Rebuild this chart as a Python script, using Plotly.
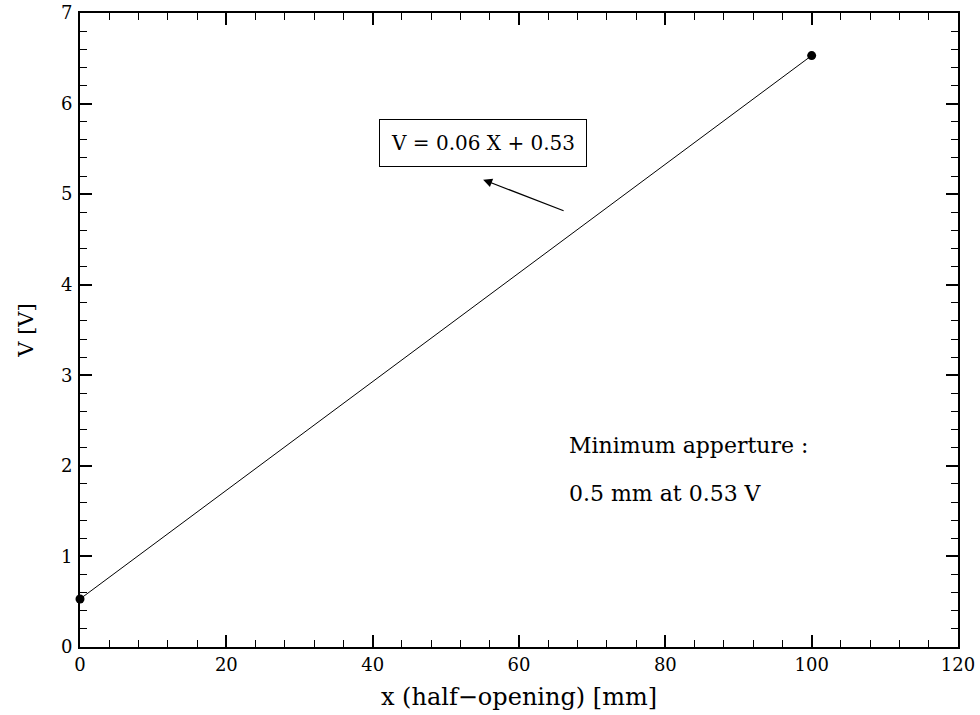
import plotly.graph_objects as go

x_pts = [0, 100]
v_pts = [0.53, 6.53]
x_ticks = [0, 20, 40, 60, 80, 100, 120]
y_ticks = [0, 1, 2, 3, 4, 5, 6, 7]
eq_text = "V = 0.06 X + 0.53"
note1 = "Minimum apperture :"
note2 = "0.5 mm at 0.53 V"

FONT = "DejaVu Serif"

fig = go.Figure()
fig.add_trace(go.Scatter(x=x_pts, y=v_pts, mode="lines+markers",
                         line=dict(color="black", width=1),
                         marker=dict(color="black", size=9),
                         cliponaxis=False, showlegend=False))

axis_common = dict(showline=True, linecolor="black", linewidth=2, mirror="ticks",
                   ticks="inside", ticklen=12, tickwidth=1.5, tickcolor="black",
                   showgrid=False, zeroline=False, automargin=False,
                   tickfont=dict(family=FONT, size=18, color="black"))

fig.update_xaxes(range=[0, 120], tickvals=x_ticks, ticktext=[str(t) for t in x_ticks],
                 minor=dict(dtick=4, ticklen=7, tickwidth=1.2, tickcolor="black", ticks="inside"),
                 title=dict(text="x (half\u2212opening) [mm]", font=dict(family=FONT, size=24, color="black")),
                 **axis_common)
fig.update_yaxes(range=[0, 7], tickvals=y_ticks, ticktext=[str(t) for t in y_ticks],
                 minor=dict(dtick=0.2, ticklen=7, tickwidth=1.2, tickcolor="black", ticks="inside"),
                 title=dict(text="V [V]", font=dict(family=FONT, size=21, color="black"), standoff=22),
                 ticklabelstandoff=2,
                 **axis_common)

fig.add_annotation(x=55.1, y=5.56, xref="x", yref="y", text=eq_text, showarrow=False,
                   font=dict(family=FONT, size=20, color="black"),
                   bordercolor="black", borderwidth=1, borderpad=11, bgcolor="white")
fig.add_annotation(x=55.1, y=5.16, ax=66.3, ay=4.81, xref="x", yref="y", axref="x", ayref="y",
                   text="", showarrow=True, arrowhead=2, arrowsize=1.5, arrowwidth=1.2,
                   arrowcolor="black")
fig.add_annotation(x=66.6, y=2.23, xref="x", yref="y", text=note1, showarrow=False,
                   xanchor="left", font=dict(family=FONT, size=22, color="black"))
fig.add_annotation(x=66.6, y=1.70, xref="x", yref="y", text=note2, showarrow=False,
                   xanchor="left", font=dict(family=FONT, size=22, color="black"))

fig.update_layout(width=980, height=715, margin=dict(l=80, r=22, t=13, b=68),
                  plot_bgcolor="white", paper_bgcolor="white")
fig.write_html("out.html")
